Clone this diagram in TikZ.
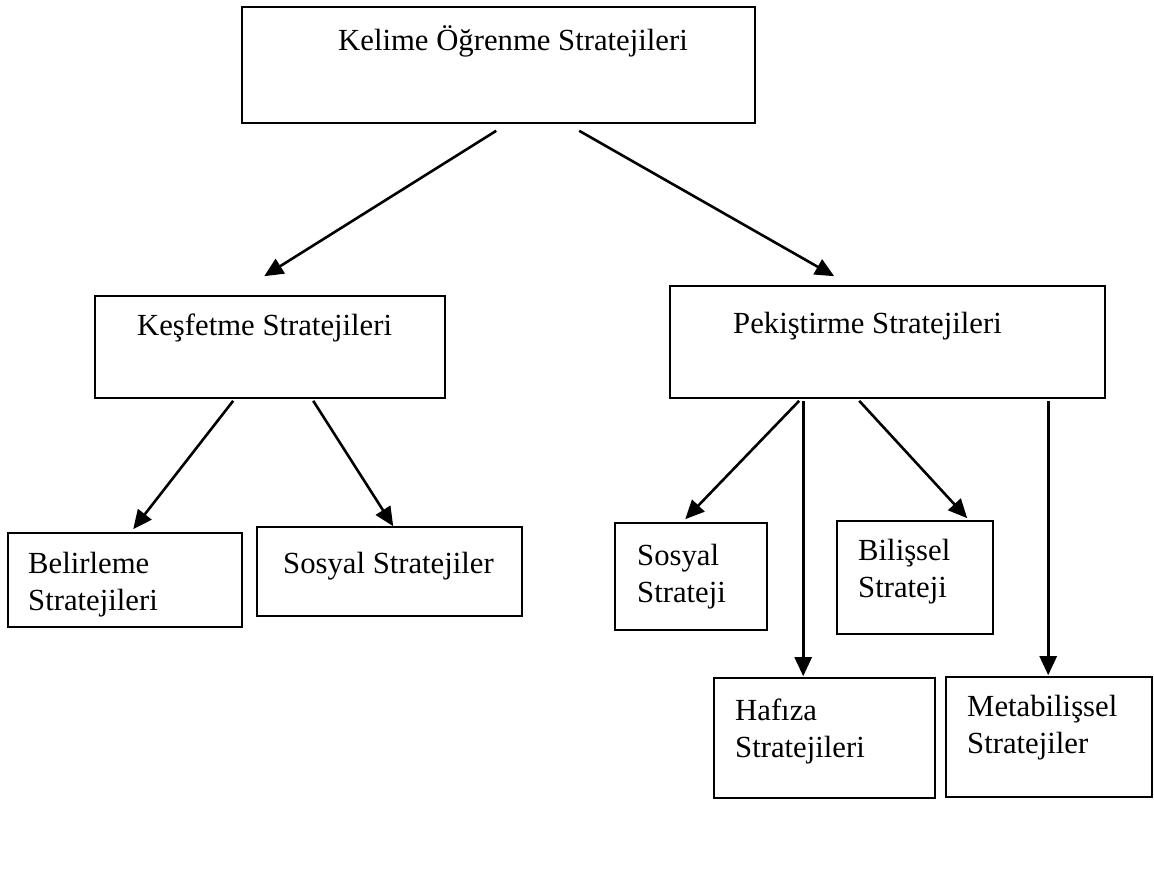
\documentclass[tikz,border=0pt]{standalone}
\usepackage{fontspec}
\setmainfont{Liberation Serif}
\usetikzlibrary{arrows.meta,calc}
\tikzset{
  kutu/.style={draw, line width=1.6pt, inner sep=0pt},
  yazi/.style={inner sep=0pt, align=left, font=\fontsize{30.7}{37}\selectfont},
  ok/.style={line width=2.6pt, -{Triangle[length=19pt,width=17pt]}}
}
\begin{document}
\begin{tikzpicture}[x=1pt,y=-1pt]
    \useasboundingbox (0,0) rectangle (1154,876);
    % kutular
    \node[kutu, minimum width=513pt, minimum height=116pt] (kelime) at (498.5,65) {};
    \node[kutu, minimum width=350pt, minimum height=102pt] (kesif) at (270,347) {};
    \node[kutu, minimum width=435pt, minimum height=112pt] (pekis) at (887.5,342) {};
    \node[kutu, minimum width=234pt, minimum height=94pt] (belir) at (125,580) {};
    \node[kutu, minimum width=265pt, minimum height=89pt] (sosyalA) at (389.5,571.5) {};
    \node[kutu, minimum width=152pt, minimum height=107pt] (sosyalB) at (691,576.5) {};
    \node[kutu, minimum width=156pt, minimum height=113pt] (bilis) at (915,577.5) {};
    \node[kutu, minimum width=221pt, minimum height=120pt] (hafiza) at (824.5,738) {};
    \node[kutu, minimum width=206pt, minimum height=120pt] (meta) at (1049,737) {};
    % yazilar (iki satirlilarda taban = son satir)
    \node[yazi, anchor=base] (kelimeT) at (513,50) {Kelime Öğrenme Stratejileri};
    \node[yazi, anchor=base west] (kesifT) at (137,335) {Keşfetme Stratejileri};
    \node[yazi, anchor=base west] (pekisT) at (733,333) {Pekiştirme Stratejileri};
    \node[yazi, anchor=base west] (belirT) at (28,610) {Belirleme\\Stratejileri};
    \node[yazi, anchor=base west] (sosyalAT) at (283,573) {Sosyal Stratejiler};
    \node[yazi, anchor=base west] (sosyalBT) at (637,602) {Sosyal\\Strateji};
    \node[yazi, anchor=base west] (bilisT) at (858,597) {Bilişsel\\Strateji};
    \node[yazi, anchor=base west] (hafizaT) at (735,757) {Hafıza\\Stratejileri};
    \node[yazi, anchor=base west] (metaT) at (967,753) {Metabilişsel\\Stratejiler};
    % oklar
    \draw[ok] ($(kelime.south west)+(255,7)$) -- ($(kesif.north west)+(170,-19)$);
    \draw[ok] ($(kelime.south west)+(338,7)$) -- ($(pekis.north west)+(165,-9)$);
    \draw[ok] ($(kesif.south west)+(139,2)$) -- ($(belir.north west)+(126,-3)$);
    \draw[ok] ($(kesif.south west)+(219,2)$) -- ($(sosyalA.north west)+(137,0)$);
    \draw[ok] ($(pekis.south west)+(130,2)$) -- ($(sosyalB.north west)+(71,-3)$);
    \draw[ok] ($(pekis.south west)+(134,2)$) -- ($(hafiza.north west)+(90,-1)$);
    \draw[ok] ($(pekis.south west)+(190,2)$) -- ($(bilis.north west)+(131,-2)$);
    \draw[ok] ($(pekis.south west)+(379,2)$) -- ($(meta.north west)+(103,-1)$);
\end{tikzpicture}
\end{document}
